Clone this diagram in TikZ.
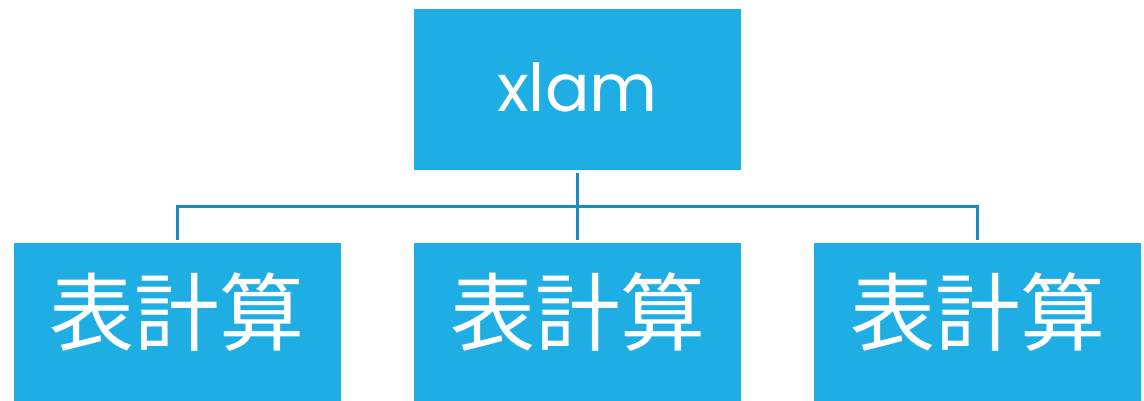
\documentclass[tikz,border=0pt]{standalone}
\usepackage{fontspec}
\setmainfont{Poppins}
\newfontfamily\jafont{Noto Sans CJK JP}
\usetikzlibrary{positioning}
\definecolor{boxblue}{RGB}{31,174,227}
\definecolor{lineblue}{RGB}{27,140,192}
\begin{document}
\begin{tikzpicture}[x=1pt, y=-1pt, node distance={73pt},
    main/.style ={fill=boxblue, minimum width=327pt, minimum height=161pt, inner sep=0pt},
    jalabel/.style ={text=white, font=\jafont\fontsize{85}{85}\selectfont, inner sep=0pt},
    link/.style ={draw=lineblue, line width=3pt, shorten <=3pt, shorten >=3pt}]
    \useasboundingbox (0,0) rectangle (1144,401);
    \node[main] (top) at (577.5,89.5) {};
    \node[main] (2) [below=of top] {};
    \node[main] (1) [left=of 2] {};
    \node[main] (3) [right=of 2] {};
    \node[text=white, font=\fontsize{66}{66}\selectfont, inner sep=0pt, anchor=base] (x) at ([yshift=-22.5pt]top.center) {xlam};
    \node[jalabel] (t1) at ([yshift=12pt]1.center) {表計算};
    \node[jalabel] (t2) at ([yshift=12pt]2.center) {表計算};
    \node[jalabel] (t3) at ([yshift=12pt]3.center) {表計算};
    \coordinate (fork) at (577.5,207);
    \draw[link, shorten >=0pt] (top.south) -- (fork);
    \draw[link, shorten <=0pt] (fork) -| (1.north);
    \draw[link, shorten <=0pt] (fork) -- (2.north);
    \draw[link, shorten <=0pt] (fork) -| (3.north);
\end{tikzpicture}
\end{document}
